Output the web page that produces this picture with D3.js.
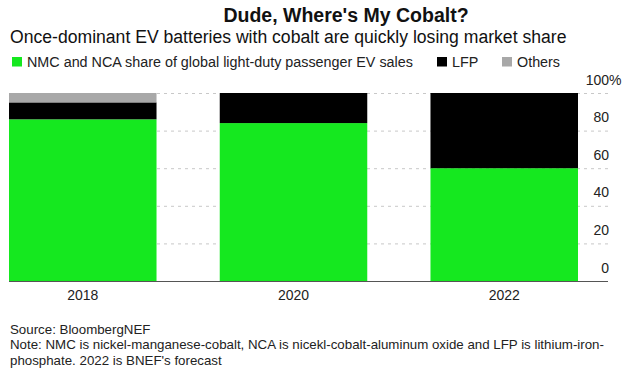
<!DOCTYPE html>
<html><head><meta charset="utf-8">
<script src="https://cdn.jsdelivr.net/npm/d3@7"></script>
<style>
html,body{margin:0;padding:0;background:#fff;}
svg{display:block;font-family:"Liberation Sans",Arial,Helvetica,sans-serif;}
</style></head>
<body>
<svg id="c" width="624" height="370"></svg>
<script>
const years = ["2018", "2020", "2022"];
const nmcNca = [86, 84, 60];
const lfp = [9, 16, 40];
const others = [5, 0, 0];
const seriesNames = ["NMC and NCA share of global light-duty passenger EV sales", "LFP", "Others"];
const seriesColors = ["#15e81f", "#000000", "#a8a8a8"];
const yTicks = [0, 20, 40, 60, 80, 100];

const svg = d3.select("#c");
const plotLeft = 9, plotRight = 608, plotTop = 93, plotBottom = 281;

const rows = years.map((yr, i) => ({year: yr, nmc: nmcNca[i], lfp: lfp[i], others: others[i]}));
const keys = ["nmc", "lfp", "others"];
const stacked = d3.stack().keys(keys)(rows);

const x = d3.scaleBand().domain(years).range([plotLeft, 578]).paddingInner(0.3).paddingOuter(0);
const y = d3.scaleLinear().domain([0, 100]).range([plotBottom, plotTop]);

// title and subtitle
svg.append("text").attr("x", 346).attr("y", 22).attr("text-anchor", "middle")
  .attr("font-size", 19.5).attr("font-weight", "bold").attr("fill", "#111")
  .text("Dude, Where's My Cobalt?");
svg.append("text").attr("x", 10).attr("y", 43)
  .attr("font-size", 17.6).attr("fill", "#111")
  .text("Once-dominant EV batteries with cobalt are quickly losing market share");

// legend
const legX = [12, 437, 502];
seriesNames.forEach((n, i) => {
  const g = svg.append("g").attr("transform", `translate(${legX[i]},57)`);
  g.append("rect").attr("width", 10).attr("height", 9.5).attr("fill", seriesColors[i]);
  g.append("text").attr("x", 15).attr("y", 9.5).attr("font-size", 14.35).attr("fill", "#222").text(n);
});

// gridlines / axis
const axis = d3.axisRight(y).tickValues(yTicks).tickSize(-(plotRight - plotLeft)).tickFormat(d => d);
const ag = svg.append("g").attr("transform", `translate(${plotRight},0)`).call(axis);
ag.select(".domain").remove();
ag.selectAll(".tick line").attr("stroke", d => d === 0 ? "#555" : "#c8c8c8")
  .attr("stroke-dasharray", d => d === 0 ? null : "3,4").attr("stroke-width", 1);
ag.selectAll(".tick text").attr("x", 1).attr("dy", null).attr("y", -9)
  .attr("text-anchor", "end").attr("font-size", 14).attr("fill", "#222")
  .attr("font-family", "Liberation Sans, Arial, sans-serif");
ag.selectAll(".tick").filter(d => d === 100).append("text")
  .attr("x", 1).attr("y", -9).attr("font-size", 14).attr("fill", "#222")
  .attr("font-family", "Liberation Sans, Arial, sans-serif").text("%");

// bars
stacked.forEach((s, si) => {
  svg.append("g").attr("fill", seriesColors[si]).selectAll("rect").data(s).join("rect")
    .attr("x", d => x(d.data.year)).attr("width", x.bandwidth())
    .attr("y", d => y(d[1])).attr("height", d => y(d[0]) - y(d[1]));
});

// baseline on top
svg.append("line").attr("x1", plotLeft).attr("x2", plotRight).attr("y1", y(0) + 0.5).attr("y2", y(0) + 0.5)
  .attr("stroke", "#555").attr("stroke-width", 1);

// x labels
const xa = d3.axisBottom(x).tickSize(0).tickPadding(0);
const xg = svg.append("g").attr("transform", `translate(0,${plotBottom})`).call(xa);
xg.select(".domain").remove();
xg.selectAll(".tick text").attr("y", 19).attr("dy", null).attr("font-size", 14).attr("fill", "#222")
  .attr("font-family", "Liberation Sans, Arial, sans-serif");

// footer
const foot = ["Source: BloombergNEF",
  "Note: NMC is nickel-manganese-cobalt, NCA is nicekl-cobalt-aluminum oxide and LFP is lithium-iron-",
  "phosphate. 2022 is BNEF's forecast"];
foot.forEach((t, i) => {
  svg.append("text").attr("x", 10).attr("y", 334 + i * 15.3).attr("font-size", 13.3).attr("fill", "#222").text(t);
});
</script>
</body></html>
